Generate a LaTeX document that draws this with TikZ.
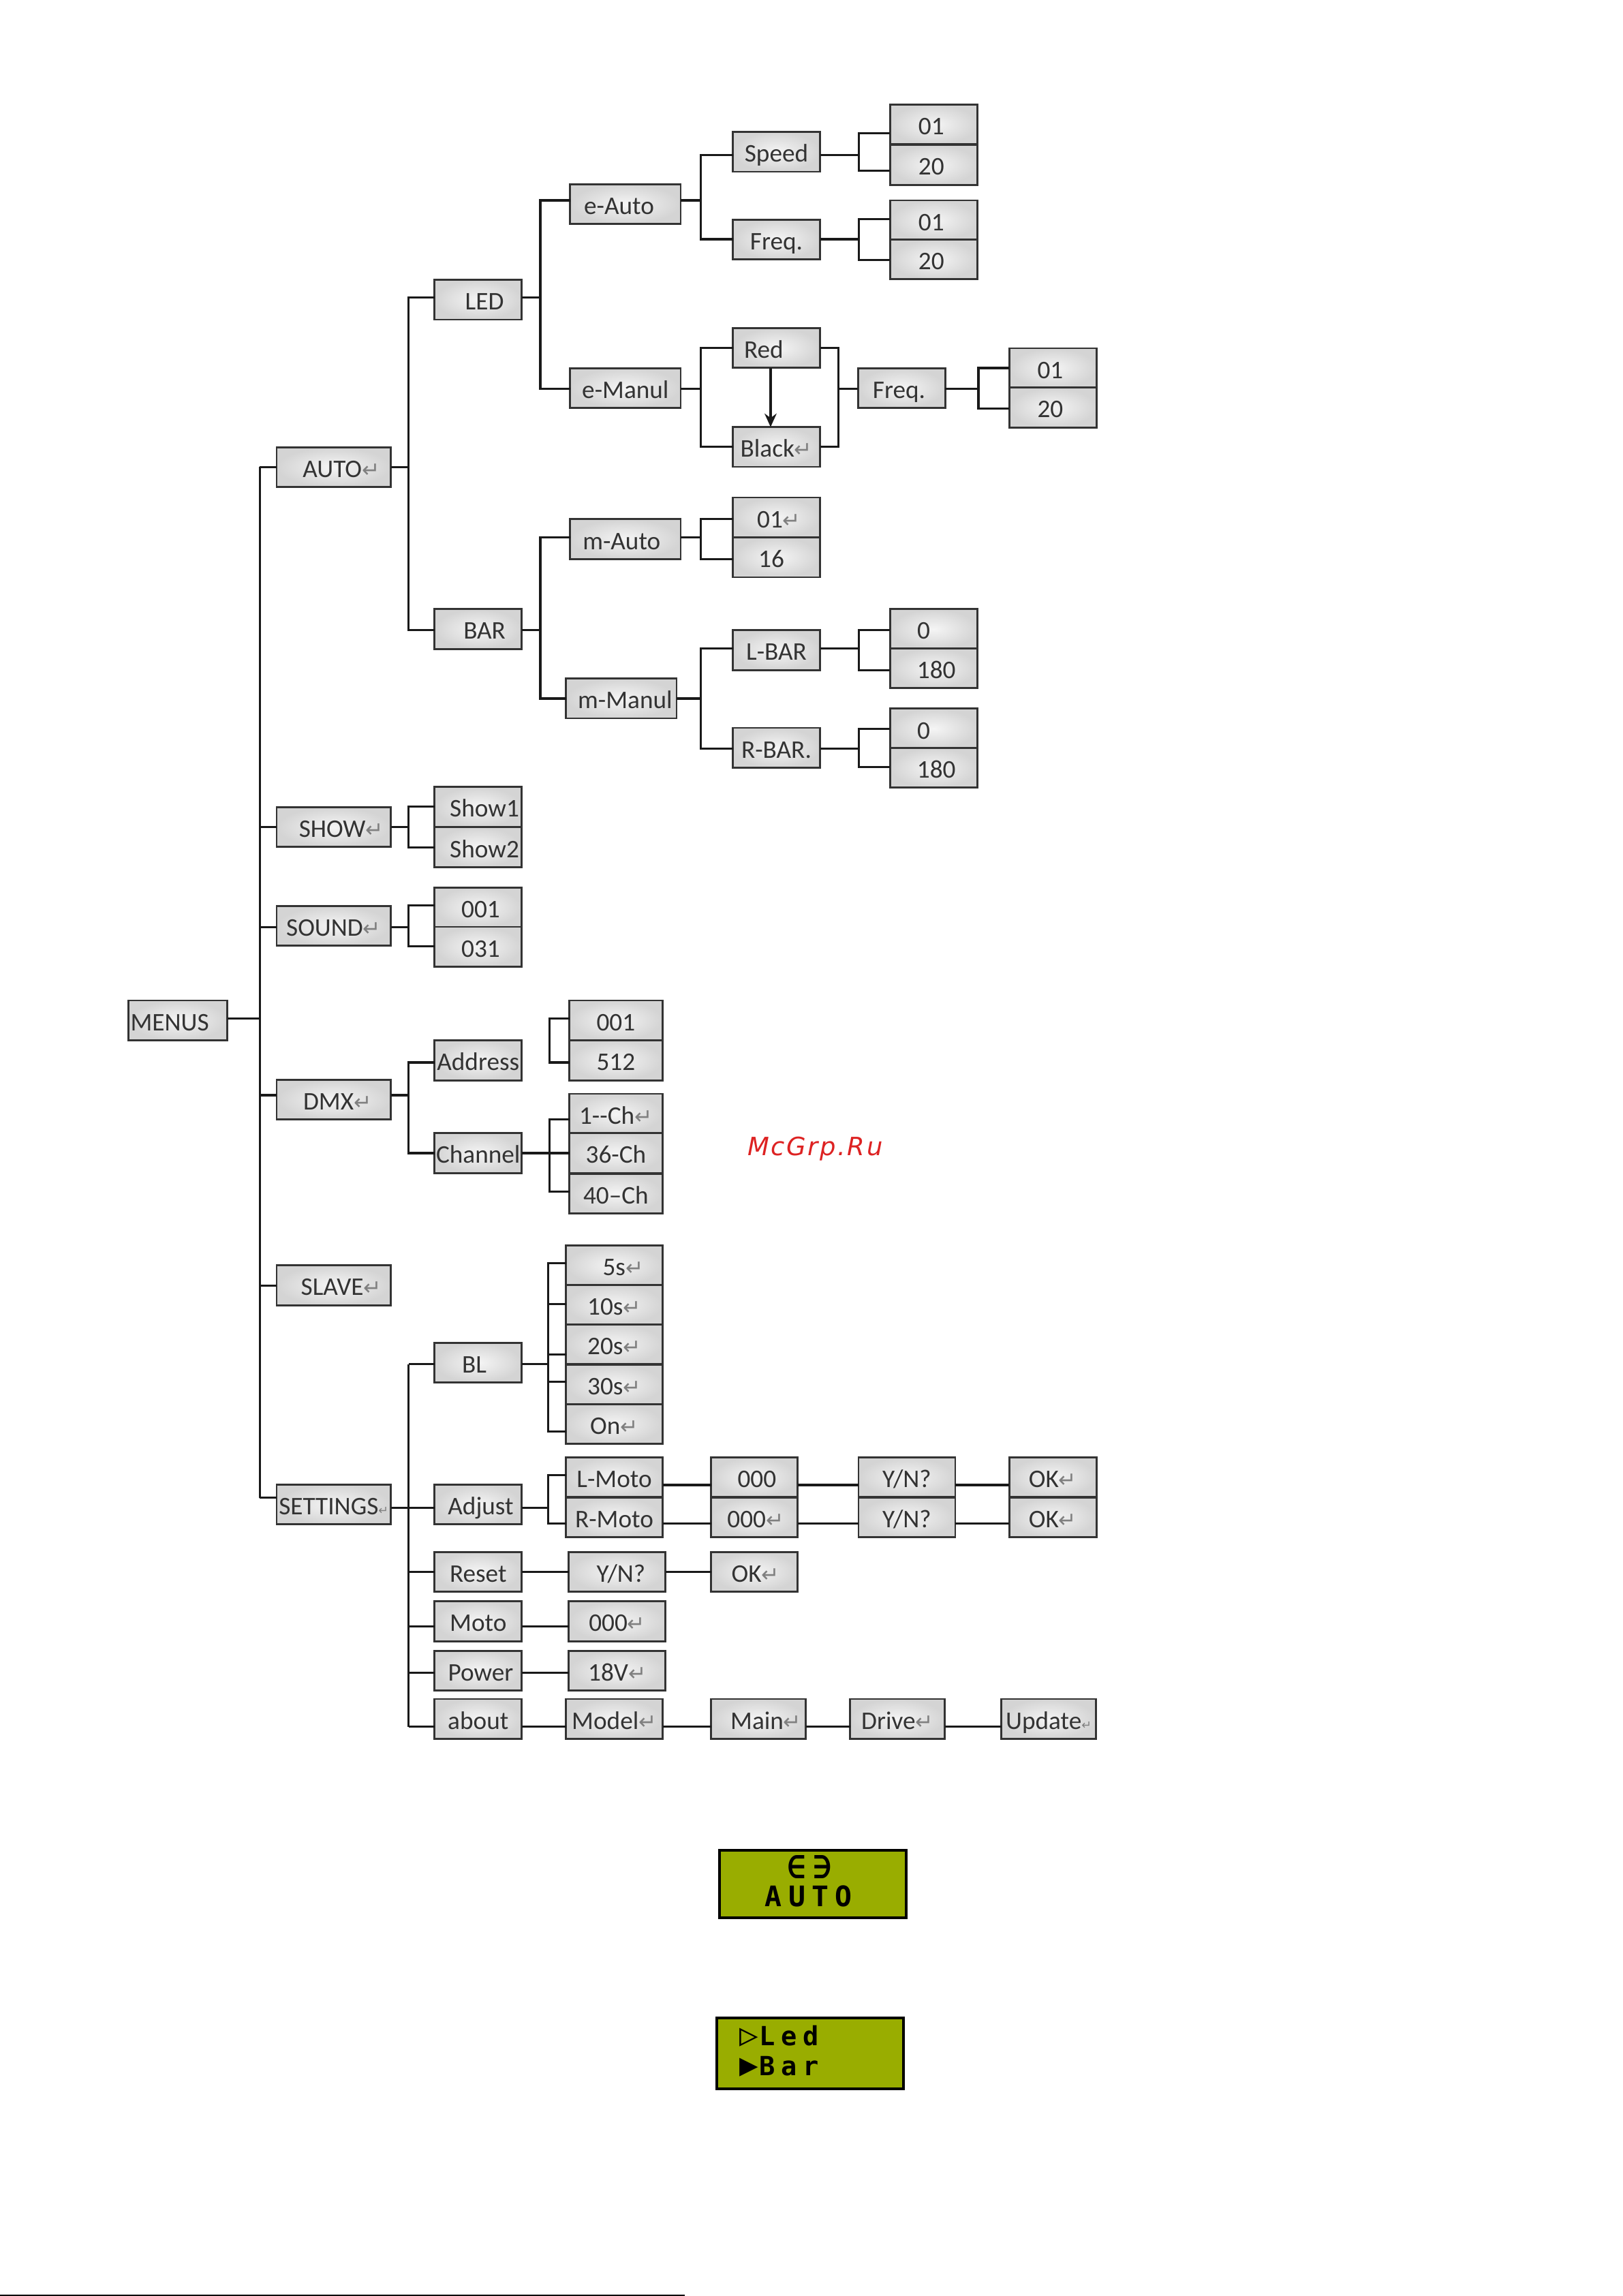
\documentclass[tikz,border=0pt]{standalone}
\usepackage{fontspec}
\usepackage{tikz}
\usetikzlibrary{arrows.meta}
\setmainfont{Carlito}
\newfontfamily\arrowfont{DejaVu Sans}
\newfontfamily\lcdfont[LetterSpace=22]{DejaVu Sans Mono}
\newfontfamily\markfont[LetterSpace=7]{DejaVu Sans}
\newcommand{\retmark}{{\arrowfont\color{black!50}\fontsize{9}{9}\selectfont ↵}}
\newcommand{\retsmall}{{\arrowfont\color{black!50}\fontsize{5}{5}\selectfont ↵}}
\definecolor{lcdgreen}{HTML}{99AD00}
\definecolor{inktext}{HTML}{333333}
\definecolor{markred}{HTML}{DD2222}

\begin{document}
\begin{tikzpicture}[
  x=0.02148cm,
  y=-0.02148cm,
  font=\fontsize{10.6}{13}\selectfont,
  box/.style={draw=black!80,line width=0.8pt,shade,inner color=black!4,outer color=black!17,
    text=inktext,minimum height=0.585cm,inner sep=0pt,outer sep=0pt,text height=8.5pt,text depth=0pt},
  boxA/.style={box,minimum width=1.675cm},
  boxB/.style={box,minimum width=1.28cm},
  boxE/.style={box,minimum width=1.624cm},
  boxD/.style={box,minimum width=1.366cm},
  boxF/.style={box,minimum width=1.42cm},
  boxM/.style={box,minimum width=1.27cm},
  boxN/.style={box,minimum width=1.39cm},
  wire/.style={draw=black!90,line width=0.9pt},
  lcd/.style={draw=black,line width=1pt,fill=lcdgreen,inner sep=0pt,
    font=\lcdfont\bfseries\fontsize{11}{12.6}\selectfont},
]
\useasboundingbox (0,0) rectangle (1108.9,1568.4);

\node[box,minimum width=1.452cm] (MENUS) at (121.6,697) {MENUS\kern0.65em};

\node[boxA] (AUTO) at (228,319.1) {\hspace{0.6em}AUTO\retmark};
\node[boxA] (SHOW) at (228,565) {\hspace{0.6em}SHOW\retmark};
\node[boxA] (SOUND) at (228,632.4) {SOUND\retmark};
\node[boxA] (DMX) at (228,751.2) {\hspace{0.3em}DMX\retmark};
\node[boxA] (SLAVE) at (228,878) {\hspace{0.6em}SLAVE\retmark};
\node[boxA] (SETTINGS) at (228,1027.7) {SETTINGS\retsmall};

\node[boxB] (LED) at (326.7,204.7) {\hspace{0.5em}LED};
\node[boxB] (BAR) at (326.7,429.7) {\hspace{0.5em}BAR};
\node[boxB] (ShowA) at (326.7,551.2) {\hspace{0.5em}Show1};
\node[boxB] (ShowB) at (326.7,578.7) {\hspace{0.5em}Show2};
\node[boxB] (sdA) at (326.7,619.8) {\hspace{0.2em}001};
\node[boxB] (sdB) at (326.7,646.7) {\hspace{0.2em}031};
\node[boxB] (Address) at (326.7,724.4) {Address};
\node[boxB] (Channel) at (326.7,787.7) {Channel};
\node[boxB] (BL) at (326.7,930.8) {BL\kern0.3em};
\node[boxB] (Adjust) at (326.7,1027.7) {\hspace{0.2em}Adjust};
\node[boxB] (Reset) at (326.7,1073.7) {Reset};
\node[boxB] (Moto) at (326.7,1107.5) {Moto};
\node[boxB] (Power) at (326.7,1141.2) {\hspace{0.2em}Power};
\node[boxB] (about) at (326.7,1174.2) {about};

\node[boxE] (eAuto) at (427.3,139.4) {e-Auto\kern0.5em};
\node[boxE] (eManul) at (427.3,265.1) {e-Manul};
\node[boxE] (mAuto) at (427.3,368.3) {m-Auto\kern0.3em};
\node[boxE] (mManul) at (424.5,477.1) {\hspace{0.3em}m-Manul};

\node[boxB] (Speed) at (530.5,103.7) {Speed};
\node[boxB] (FreqA) at (530.5,163.6) {Freq.};
\node[boxB] (Red) at (530.5,237.7) {Red\kern1em};
\node[boxB] (Black) at (530.5,305.3) {Black\retmark};
\node[boxB] (FreqB) at (616,265.1) {Freq.\kern0.2em};
\node[boxB] (maA) at (530.5,353.5) {\hspace{0.2em}01\retmark};
\node[boxB] (maB) at (530.5,380.7) {16\kern0.4em};
\node[boxB] (LBar) at (530.5,444.1) {L-BAR};
\node[boxB] (RBar) at (530.5,510.8) {R-BAR.};

\node[boxB] (spA) at (638,85) {01\kern0.2em};
\node[boxB] (spB) at (638,112.6) {20\kern0.2em};
\node[boxB] (frA) at (638,150.5) {01\kern0.2em};
\node[boxB] (frB) at (638,177.2) {20\kern0.2em};
\node[boxB] (fbA) at (719.3,251.5) {01\kern0.2em};
\node[boxB] (fbB) at (719.3,278.4) {20\kern0.2em};
\node[boxB] (lbA) at (638,429.7) {0\kern0.8em};
\node[boxB] (lbB) at (638,456.5) {\hspace{0.2em}180};
\node[boxB] (rbA) at (638,497.7) {0\kern0.8em};
\node[boxB] (rbB) at (638,524.5) {\hspace{0.2em}180};

\node[boxD] (adA) at (420.8,697) {001};
\node[boxD] (adB) at (420.8,724.4) {512};
\node[boxD] (chA) at (420.8,760.8) {1-{}-Ch\retmark};
\node[boxD] (chB) at (420.8,787.7) {36-Ch};
\node[boxD] (chC) at (420.8,815.4) {40--Ch};

\node[boxF] (blA) at (419.7,864.3) {\hspace{0.7em}5s\retmark};
\node[boxF] (blB) at (419.7,891.2) {10s\retmark};
\node[boxF] (blC) at (419.7,918.2) {20s\retmark};
\node[boxF] (blD) at (419.7,945.8) {30s\retmark};
\node[boxF] (blE) at (419.7,972.7) {On\retmark};

\node[boxF] (LMoto) at (419.7,1009) {L-Moto};
\node[boxF] (RMoto) at (419.7,1036.5) {R-Moto};
\node[boxM] (mtA) at (515.4,1009) {\hspace{0.2em}000};
\node[boxM] (mtB) at (515.4,1036.5) {\hspace{0.1em}000\retmark};
\node[boxF] (ynA) at (619.6,1009) {Y/N?};
\node[boxF] (ynB) at (619.6,1036.5) {Y/N?};
\node[boxB] (okA) at (719.3,1009) {OK\retmark};
\node[boxB] (okB) at (719.3,1036.5) {OK\retmark};

\node[boxF] (ynC) at (421.7,1073.7) {\hspace{0.3em}Y/N?};
\node[boxM] (okC) at (515.4,1073.7) {\hspace{0.1em}OK\retmark};
\node[boxF] (mtC) at (421.7,1107.5) {000\retmark};
\node[boxF] (vlt) at (421.7,1141.2) {18V\retmark};
\node[boxF] (Model) at (419.7,1174.2) {Model\retmark};
\node[boxN] (Main) at (518.2,1174.2) {\hspace{0.6em}Main\retmark};
\node[boxN] (Drive) at (613.2,1174.2) {Drive\retmark};
\node[boxN] (Update) at (716.5,1174.2) {Update\retsmall};

\coordinate (T) at (177.6,695.6);
\coordinate (R) at (572.9,265.4);
\draw[wire] (MENUS.east |- T) -- (T);
\draw[wire] (177.6,319.1) -- (177.6,1023.1);
\foreach \n/\y in {AUTO/319.1,SHOW/564.9,SOUND/633.5,DMX/748.1,SLAVE/878.3,SETTINGS/1023.1}
  \draw[wire] (\n.west |- 0,\y) -- (T |- 0,\y);

\foreach \p/\a/\b/\jx/\ya/\yb/\ym in {
  AUTO/LED/BAR/279.1/203.3/430.3/319.1,
  LED/eAuto/eManul/369.2/136.9/265.4/203.3,
  BAR/mAuto/mManul/369.2/367/477.2/430.3,
  eAuto/Speed/FreqA/478.9/105.8/163.4/136.9,
  eManul/Red/Black/478.9/237.7/305.3/265.4,
  Speed/spA/spB/586.7/91/116.6/105.8,
  FreqA/frA/frB/586.7/149.7/177.5/163.4,
  FreqB/fbA/fbB/668.5/251.4/278.9/265.4,
  mAuto/maA/maB/478.9/354.6/382/367,
  mManul/LBar/RBar/478.9/442.8/511.4/477.2,
  LBar/lbA/lbB/586.7/430.3/458/442.8,
  RBar/rbA/rbB/586.7/497.7/523.9/511.4,
  SHOW/ShowA/ShowB/278.9/551/578.9/564.9,
  SOUND/sdA/sdB/278.9/618.6/646.2/633.5,
  DMX/Address/Channel/278.9/725.8/787.7/748.1,
  Channel/chA/chC/375.4/764.5/814.1/787.7,
  BL/blA/blE/374.7/863/977.9/931.8,
  Adjust/LMoto/RMoto/374.7/1007.8/1040.7/1029.8}
{
  \draw[wire] (\a.west |- 0,\ya) -- (\jx,\ya) -- (\jx,\yb) -- (\b.west |- 0,\yb);
  \draw[wire] (\p.east |- 0,\ym) -- (\jx,\ym);
}

\draw[wire] (adA.west |- 0,695.6) -- (375.4,695.6) -- (375.4,725.8) -- (adB.west |- 0,725.8);
\draw[wire] (375.4,787.7) -- (chB.west |- 0,787.7);
\foreach \n/\y in {blB/890.8,blC/925.3,blD/943.9}
  \draw[wire] (374.7,\y) -- (\n.west |- 0,\y);

\draw[wire] (Red.east |- 0,237.7) -- (R |- 0,237.7) -- (R |- 0,305.3) -- (Black.east |- 0,305.3);
\draw[wire] (R) -- (FreqB.west |- R);
\draw[wire,-{Stealth[length=5.6pt,width=5pt]}] (526.5,0 |- Red.south) -- (526.5,0 |- Black.north);

\draw[wire] (279.1,931.8) -- (279.1,1179.6);
\draw[wire] (SETTINGS.east |- 0,1029.8) -- (Adjust.west |- 0,1029.8);
\foreach \n/\y in {BL/931.8,Reset/1073.6,Moto/1110.8,Power/1142.5,about/1179.6}
  \draw[wire] (279.1,\y) -- (\n.west |- 0,\y);

\foreach \a/\b/\y in {
  LMoto/mtA/1014.4,mtA/ynA/1014.4,ynA/okA/1014.4,
  RMoto/mtB/1040.7,mtB/ynB/1040.7,ynB/okB/1040.7,
  Reset/ynC/1073.6,ynC/okC/1073.6,
  Moto/mtC/1110.8,Power/vlt/1142.5,
  about/Model/1179.6,Model/Main/1179.6,Main/Drive/1179.6,Drive/Update/1179.6}
  \draw[wire] (\a.east |- 0,\y) -- (\b.west |- 0,\y);

\node[lcd,minimum width=2.74cm,minimum height=0.99cm,align=center] (lcdA) at (555.3,1287)
  {{\fontsize{13}{12}\selectfont\kern-0.2em ∈∋}\\[-1pt]{\fontsize{11.8}{12}\selectfont\kern-0.3em AUTO}\rule[-2.5pt]{0pt}{0pt}};
\node[lcd,minimum width=2.74cm,minimum height=1.04cm,align=left,text width=2.42cm] (lcdB) at (553.5,1402.7)
  {\hspace*{0.45em}{\fontsize{13}{12}\selectfont ▷}\kern0.05em Led\\\hspace*{0.45em}{\fontsize{13}{12}\selectfont ▶}\kern0.05em Bar\rule[-2.5pt]{0pt}{0pt}};

\node[text=markred,font=\markfont\itshape\fontsize{10.5}{13}\selectfont] (mark) at (557,784.5) {McGrp.Ru};

\draw[line width=0.6pt] (0,1567.9) -- (468,1567.9);
\end{tikzpicture}
\end{document}
